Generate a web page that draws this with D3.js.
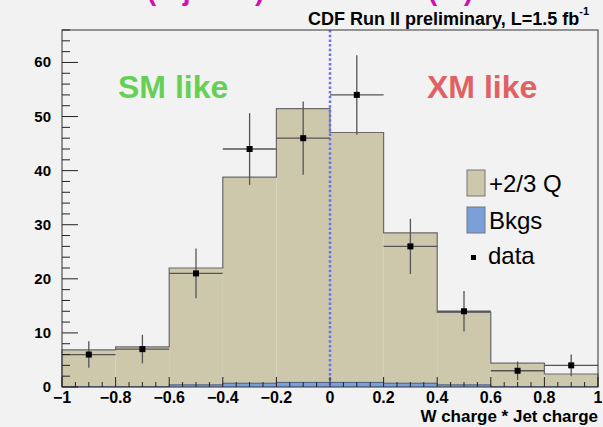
<!DOCTYPE html>
<html>
<head>
<meta charset="utf-8">
<script src="https://cdn.jsdelivr.net/npm/d3@7"></script>
<style>
  body { margin: 0; background: #f2f2f2; }
  svg { display: block; }
  text { font-family: "Liberation Sans", Arial, Helvetica, sans-serif; }
</style>
</head>
<body>
<svg id="chart" width="603" height="427"></svg>
<script>
// bins of W charge * Jet charge
const binEdges = [-1, -0.8, -0.6, -0.4, -0.2, 0, 0.2, 0.4, 0.6, 0.8, 1];
// stacked: Bkgs at the bottom, +2/3 Q on top
const bkgs = [0.05, 0.05, 0.4, 0.7, 0.85, 0.85, 0.7, 0.4, 0.05, 0.05];
const signal = [6.8, 7.35, 21.6, 38.1, 50.6, 46.2, 27.8, 13.4, 4.35, 2.35];
const dataX = [-0.9, -0.7, -0.5, -0.3, -0.1, 0.1, 0.3, 0.5, 0.7, 0.9];
const dataY = [6, 7, 21, 44, 46, 54, 26, 14, 3, 4];
const xTicks = [-1, -0.8, -0.6, -0.4, -0.2, 0, 0.2, 0.4, 0.6, 0.8, 1];
const yTicks = [0, 10, 20, 30, 40, 50, 60];

const margin = { top: 30, right: 5, bottom: 40, left: 62 };
const W = 603, H = 427;
const svg = d3.select('#chart');

const x = d3.scaleLinear().domain([-1, 1]).range([margin.left, W - margin.right]);
const y = d3.scaleLinear().domain([0, 66]).range([H - margin.bottom, margin.top]);

// title cut off by the top edge (as in the source image)
svg.append('text')
  .attr('x', 147).attr('y', 0)
  .attr('fill', '#d010b4').style('font-size', '28px').style('font-weight', 'bold')
  .text('(b-jet')
  .append('tspan').attr('x', 255).text(')');
svg.append('text')
  .attr('x', 428).attr('y', 0)
  .attr('fill', '#d010b4').style('font-size', '28px').style('font-weight', 'bold')
  .text('(W)');

// histogram fills
const bins = signal.map((s, i) => ({ x0: binEdges[i], x1: binEdges[i + 1], b: bkgs[i], t: bkgs[i] + s }));

svg.append('g').selectAll('rect')
  .data(bins).enter().append('rect')
  .attr('x', d => x(d.x0))
  .attr('width', d => x(d.x1) - x(d.x0))
  .attr('y', d => y(d.t))
  .attr('height', d => y(d.b) - y(d.t))
  .attr('fill', '#cdc8ab');

svg.append('g').selectAll('rect')
  .data(bins).enter().append('rect')
  .attr('x', d => x(d.x0))
  .attr('width', d => x(d.x1) - x(d.x0))
  .attr('y', d => y(d.b))
  .attr('height', d => y(0) - y(d.b))
  .attr('fill', '#7b9fd8');

// step outlines
const stepLine = (vals) => {
  let pts = [[binEdges[0], 0]];
  vals.forEach((v, i) => { pts.push([binEdges[i], v]); pts.push([binEdges[i + 1], v]); });
  pts.push([binEdges[binEdges.length - 1], 0]);
  return d3.line().x(d => x(d[0])).y(d => y(d[1]))(pts);
};
svg.append('path').attr('d', stepLine(bins.map(d => d.t)))
  .attr('fill', 'none').attr('stroke', '#6a6a6a').attr('stroke-width', 1.2);
svg.append('path').attr('d', stepLine(bins.map(d => d.b)))
  .attr('fill', 'none').attr('stroke', '#4a5a80').attr('stroke-width', 1);

// dotted line at zero
svg.append('line')
  .attr('x1', x(0)).attr('x2', x(0))
  .attr('y1', y(66)).attr('y2', y(0))
  .attr('stroke', '#6e6ef0').attr('stroke-width', 2.5)
  .attr('stroke-dasharray', '2.5,2.2');

// data points with errors
const pts = svg.append('g').selectAll('g')
  .data(dataX.map((v, i) => ({ x: v, y: dataY[i] }))).enter().append('g');
pts.append('line')
  .attr('x1', d => x(d.x - 0.1)).attr('x2', d => x(d.x + 0.1))
  .attr('y1', d => y(d.y)).attr('y2', d => y(d.y))
  .attr('stroke', '#555').attr('stroke-width', 1.3);
pts.append('line')
  .attr('x1', d => x(d.x)).attr('x2', d => x(d.x))
  .attr('y1', d => y(d.y + Math.sqrt(d.y))).attr('y2', d => y(Math.max(0, d.y - Math.sqrt(d.y))))
  .attr('stroke', '#555').attr('stroke-width', 1.3);
pts.append('rect')
  .attr('x', d => x(d.x) - 3).attr('y', d => y(d.y) - 3)
  .attr('width', 6).attr('height', 6).attr('fill', '#000');

// frame
svg.append('rect')
  .attr('x', x(-1)).attr('y', y(66))
  .attr('width', x(1) - x(-1)).attr('height', y(0) - y(66))
  .attr('fill', 'none').attr('stroke', '#333').attr('stroke-width', 1);

// y axis
const yMinor = d3.range(0, 67, 2);
svg.append('g').selectAll('line').data(yMinor).enter().append('line')
  .attr('x1', x(-1)).attr('x2', d => x(-1) + (d % 10 === 0 ? 16 : 8))
  .attr('y1', d => y(d)).attr('y2', d => y(d))
  .attr('stroke', '#222').attr('stroke-width', 1);
svg.append('g').selectAll('text').data(yTicks).enter().append('text')
  .attr('x', x(-1) - 11).attr('y', d => y(d) + 5)
  .attr('text-anchor', 'end')
  .style('font-size', '15px').style('font-weight', 'bold')
  .text(d => d);

// x axis
const xMinor = d3.range(-1, 1.0001, 0.05);
svg.append('g').selectAll('line').data(xMinor).enter().append('line')
  .attr('x1', d => x(d)).attr('x2', d => x(d))
  .attr('y1', y(0))
  .attr('y2', (d, i) => y(0) - (i % 4 === 0 ? 10 : 5))
  .attr('stroke', '#222').attr('stroke-width', 1);
svg.append('g').selectAll('text').data(xTicks).enter().append('text')
  .attr('x', d => x(d)).attr('y', 403)
  .attr('text-anchor', 'middle')
  .style('font-size', '16px').style('font-weight', 'bold')
  .text(d => d3.format('')(d));

svg.append('text')
  .attr('x', 598).attr('y', 422).attr('text-anchor', 'end')
  .style('font-size', '17px').style('font-weight', 'bold')
  .text('W charge * Jet charge');

// title
const title = svg.append('text')
  .attr('x', 589).attr('y', 25).attr('text-anchor', 'end')
  .style('font-size', '18px').style('font-weight', 'bold')
  .text('CDF Run II preliminary, L=1.5 fb');
title.append('tspan').attr('dy', -10).style('font-size', '11px').text('-1');

// labels
svg.append('text').attr('x', 118).attr('y', 98)
  .attr('fill', '#66d055').style('font-size', '32px').style('font-weight', 'bold')
  .text('SM like');
svg.append('text').attr('x', 427).attr('y', 98)
  .attr('fill', '#df6262').style('font-size', '32px').style('font-weight', 'bold')
  .text('XM like');

// legend
const legend = [
  { label: '+2/3 Q', fill: '#cdc8ab', y: 170 },
  { label: 'Bkgs', fill: '#7b9fd8', y: 207 }
];
const lg = svg.append('g').selectAll('g').data(legend).enter().append('g');
lg.append('rect')
  .attr('x', 467).attr('y', d => d.y).attr('width', 18).attr('height', 26)
  .attr('fill', d => d.fill).attr('stroke', '#777').attr('stroke-width', 1);
lg.append('text')
  .attr('x', 489).attr('y', d => d.y + 22)
  .style('font-size', '24px')
  .text(d => d.label);
svg.append('rect').attr('x', 471).attr('y', 255).attr('width', 5).attr('height', 5).attr('fill', '#000');
svg.append('text').attr('x', 488).attr('y', 264).style('font-size', '24px').text('data');
</script>
</body>
</html>
